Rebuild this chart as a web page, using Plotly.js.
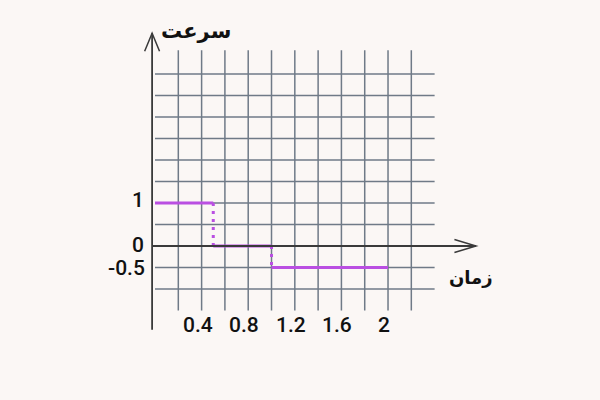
<!DOCTYPE html>
<html>
<head>
<meta charset="utf-8">
<script src="https://cdn.plot.ly/plotly-3.0.1.min.js"></script>
<style>html,body{margin:0;padding:0;background:#FBF7F5;}#chart{width:600px;height:400px;}</style>
</head>
<body>
<div id="chart"></div>
<script>
// Data: piecewise velocity (سرعت) over time (زمان)
const segStart = [0, 0.5, 1];
const segEnd = [0.5, 1, 2];
const velocity = [1, 0, -0.5];

const xTickVals = [0.4, 0.8, 1.2, 1.6, 2];
const xTickText = ['0.4', '0.8', '1.2', '1.6', '2'];
const yTickVals = [1, 0, -0.5];
const yTickText = ['1', '0', '-0.5'];

const xGrid = [0.2, 0.4, 0.6, 0.8, 1.0, 1.2, 1.4, 1.6, 1.8, 2.0, 2.2];
const yGrid = [-1, -0.5, 0, 0.5, 1, 1.5, 2, 2.5, 3, 3.5, 4];

const purple = '#BA4FE2';
const gridColor = '#6F7A87';
const axisColor = '#3A3A3A';

// horizontal segments
const hx = [], hy = [];
for (let i = 0; i < segStart.length; i++) {
  hx.push(segStart[i], segEnd[i], null);
  hy.push(velocity[i], velocity[i], null);
}
// vertical dotted jumps
const vx = [], vy = [];
for (let i = 1; i < segStart.length; i++) {
  vx.push(segStart[i], segStart[i], null);
  vy.push(velocity[i - 1], velocity[i], null);
}

const shapes = [];
xGrid.forEach(x => shapes.push({type: 'line', xref: 'x', yref: 'y', x0: x, x1: x, y0: -1.5, y1: 4.55, line: {color: gridColor, width: 1.5}, layer: 'below'}));
yGrid.forEach(y => shapes.push({type: 'line', xref: 'x', yref: 'y', x0: 0, x1: 2.4, y0: y, y1: y, line: {color: gridColor, width: 1.5}, layer: 'below'}));
// axes
shapes.push({type: 'line', xref: 'x', yref: 'y', x0: -0.025, x1: -0.025, y0: -1.95, y1: 4.95, line: {color: axisColor, width: 1.8}});
shapes.push({type: 'line', xref: 'x', yref: 'y', x0: -0.025, x1: 2.755, y0: 0, y1: 0, line: {color: axisColor, width: 1.8}});
// arrow heads
shapes.push({type: 'path', xref: 'x', yref: 'y', path: 'M -0.089 4.53 L -0.025 4.95 L 0.039 4.53', line: {color: axisColor, width: 1.5}});
shapes.push({type: 'path', xref: 'x', yref: 'y', path: 'M 2.57 0.15 L 2.755 0 L 2.57 -0.15', line: {color: axisColor, width: 1.5}});

const annotations = [];
const lblFont = {family: 'Roboto, sans-serif', size: 21, color: '#111', weight: 500};
xTickVals.forEach((v, i) => annotations.push({x: v, y: -1.84, xref: 'x', yref: 'y', text: xTickText[i], showarrow: false, font: lblFont, xshift: -4}));
// y tick labels: "1" and "0" centred near x=138px, "-0.5" right edge near 147px
const yLblX = [-0.146, -0.146, -0.069];
const yLblAnchor = ['center', 'center', 'right'];
const yLblShift = [3, 1, 0];
yTickVals.forEach((v, i) => annotations.push({x: yLblX[i], y: v, xref: 'x', yref: 'y', text: yTickText[i], showarrow: false, font: lblFont, xanchor: yLblAnchor[i], yshift: yLblShift[i]}));
annotations.push({x: 0.35, y: 5.0, xref: 'x', yref: 'y', text: 'سرعت', showarrow: false, font: {family: 'DejaVu Sans, sans-serif', size: 21, color: '#111', weight: 'bold'}});
annotations.push({x: 2.715, y: -0.74, xref: 'x', yref: 'y', text: 'زمان', showarrow: false, font: {family: 'DejaVu Sans, sans-serif', size: 18, color: '#111', weight: 'bold'}});

const traces = [
  {x: vx, y: vy, mode: 'lines', line: {color: purple, width: 3, dash: '3px,5px'}, hoverinfo: 'skip'},
  {x: hx, y: hy, mode: 'lines', line: {color: purple, width: 3}, hoverinfo: 'skip'}
];

const layout = {
  width: 600, height: 400,
  margin: {l: 0, r: 0, t: 0, b: 0},
  paper_bgcolor: '#FBF7F5', plot_bgcolor: 'rgba(0,0,0,0)',
  showlegend: false,
  xaxis: {range: [-1.3305, 3.8195], visible: false, fixedrange: true},
  yaxis: {range: [-3.581, 5.721], visible: false, fixedrange: true},
  shapes: shapes,
  annotations: annotations
};

Plotly.newPlot('chart', traces, layout, {staticPlot: true});
</script>
</body>
</html>
